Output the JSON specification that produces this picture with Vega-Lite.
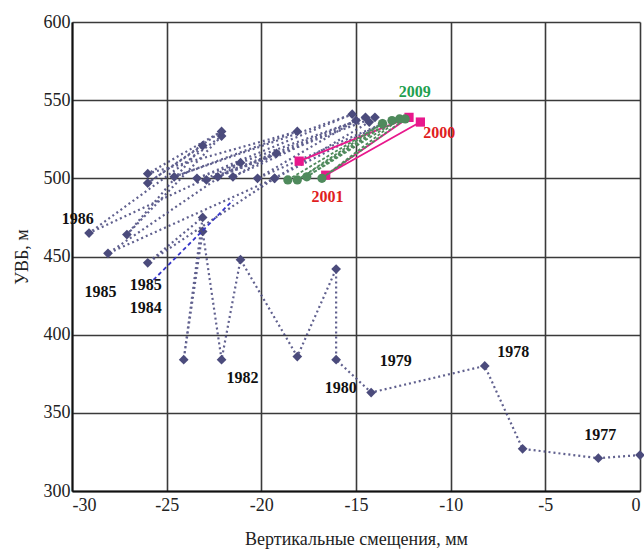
{
  "$schema": "https://vega.github.io/schema/vega-lite/v6.json",
  "width": 568,
  "height": 469,
  "autosize": {"type": "none"},
  "padding": {"left": 72, "top": 22, "right": 4, "bottom": 60},
  "background": "white",
  "config": {
    "font": "Liberation Serif",
    "view": {"stroke": null},
    "style": {
      "guide-label": {"font": "Liberation Serif", "fontSize": 18, "fill": "#222"},
      "guide-title": {"font": "Liberation Serif", "fontSize": 18, "fontWeight": "normal", "fill": "#222"}
    },
    "axis": {
      "labelFont": "Liberation Serif",
      "labelFontSize": 18,
      "labelColor": "#222",
      "titleFont": "Liberation Serif",
      "titleFontSize": 18,
      "titleFontWeight": "normal",
      "titleColor": "#222",
      "grid": true,
      "gridColor": "#3a3a3a",
      "gridWidth": 1.6,
      "gridOpacity": 1,
      "domainColor": "#111",
      "domainWidth": 2,
      "ticks": false
    }
  },
  "layer": [
    {
      "data": {"values": [
        {"o": 1, "x": 0, "y": 323},
        {"o": 2, "x": -2.2, "y": 321},
        {"o": 3, "x": -6.2, "y": 327},
        {"o": 4, "x": -8.2, "y": 380},
        {"o": 5, "x": -14.2, "y": 363},
        {"o": 6, "x": -16.05, "y": 384},
        {"o": 7, "x": -16.05, "y": 442},
        {"o": 8, "x": -18.1, "y": 386},
        {"o": 9, "x": -21.1, "y": 448},
        {"o": 10, "x": -22.1, "y": 384},
        {"o": 11, "x": -23.1, "y": 466},
        {"o": 12, "x": -24.1, "y": 384},
        {"o": 13, "x": -23.1, "y": 475},
        {"o": 14, "x": -26.0, "y": 446},
        {"o": 15, "x": -19.3, "y": 500},
        {"o": 16, "x": -28.1, "y": 452},
        {"o": 17, "x": -21.1, "y": 510},
        {"o": 18, "x": -29.1, "y": 465},
        {"o": 19, "x": -22.1, "y": 527},
        {"o": 20, "x": -27.1, "y": 464},
        {"o": 21, "x": -23.1, "y": 521},
        {"o": 22, "x": -26.0, "y": 497},
        {"o": 23, "x": -22.1, "y": 530},
        {"o": 24, "x": -26.0, "y": 503},
        {"o": 25, "x": -18.1, "y": 530},
        {"o": 26, "x": -24.6, "y": 501},
        {"o": 27, "x": -15.2, "y": 541},
        {"o": 28, "x": -23.4, "y": 500},
        {"o": 29, "x": -14.5, "y": 539},
        {"o": 30, "x": -22.9, "y": 499},
        {"o": 31, "x": -14.0, "y": 539},
        {"o": 32, "x": -22.3, "y": 501},
        {"o": 33, "x": -19.2, "y": 516},
        {"o": 34, "x": -21.5, "y": 501},
        {"o": 35, "x": -15.0, "y": 537},
        {"o": 36, "x": -20.2, "y": 500},
        {"o": 37, "x": -13.6, "y": 535},
        {"o": 38, "x": -19.3, "y": 500},
        {"o": 39, "x": -14.3, "y": 536}
      ]},
      "layer": [
        {
          "mark": {"type": "line", "color": "#4f4f82", "strokeWidth": 2.2, "strokeDash": [2, 3], "opacity": 0.9},
          "encoding": {
            "x": {"field": "x", "type": "quantitative", "scale": {"domain": [-30, 0], "nice": false, "zero": false}, "axis": {"values": [-30, -25, -20, -15, -10, -5, 0], "labelExpr": "'' + datum.value", "labelFont": "Liberation Serif", "titleFont": "Liberation Serif", "title": "Вертикальные смещения, мм", "labelPadding": 5, "titlePadding": 16}},
            "y": {"field": "y", "type": "quantitative", "scale": {"domain": [300, 600], "nice": false, "zero": false}, "axis": {"values": [300, 350, 400, 450, 500, 550, 600], "labelExpr": "'' + datum.value", "labelFont": "Liberation Serif", "titleFont": "Liberation Serif", "title": "УВБ, м", "labelPadding": 2, "titlePadding": 12}},
            "order": {"field": "o"}
          }
        },
        {
          "mark": {"type": "point", "shape": "diamond", "filled": true, "color": "#4b4b7c", "size": 95, "opacity": 1},
          "encoding": {
            "x": {"field": "x", "type": "quantitative"},
            "y": {"field": "y", "type": "quantitative"}
          }
        }
      ]
    },
    {
      "data": {"values": [
        {"o": 1, "x": -18.0, "y": 511},
        {"o": 2, "x": -12.2, "y": 539},
        {"o": 3, "x": -16.6, "y": 502},
        {"o": 4, "x": -11.6, "y": 536}
      ]},
      "layer": [
        {
          "mark": {"type": "line", "color": "#e8188c", "strokeWidth": 1.8},
          "encoding": {
            "x": {"field": "x", "type": "quantitative"},
            "y": {"field": "y", "type": "quantitative"},
            "order": {"field": "o"}
          }
        },
        {
          "mark": {"type": "point", "shape": "square", "filled": true, "color": "#e8188c", "size": 85, "opacity": 1},
          "encoding": {
            "x": {"field": "x", "type": "quantitative"},
            "y": {"field": "y", "type": "quantitative"}
          }
        }
      ]
    },
    {
      "data": {"values": [
        {"o": 1, "x": -18.6, "y": 499},
        {"o": 2, "x": -13.6, "y": 535},
        {"o": 3, "x": -18.1, "y": 499},
        {"o": 4, "x": -13.1, "y": 537},
        {"o": 5, "x": -17.6, "y": 501},
        {"o": 6, "x": -12.7, "y": 538},
        {"o": 7, "x": -16.8, "y": 500},
        {"o": 8, "x": -12.4, "y": 538}
      ]},
      "layer": [
        {
          "mark": {"type": "line", "color": "#4f8a5c", "strokeWidth": 1.8, "strokeDash": [3, 2]},
          "encoding": {
            "x": {"field": "x", "type": "quantitative"},
            "y": {"field": "y", "type": "quantitative"},
            "order": {"field": "o"}
          }
        },
        {
          "mark": {"type": "point", "shape": "circle", "filled": true, "color": "#4f8a5c", "size": 85, "opacity": 1},
          "encoding": {
            "x": {"field": "x", "type": "quantitative"},
            "y": {"field": "y", "type": "quantitative"}
          }
        }
      ]
    },
    {
      "data": {"values": [
        {"o": 1, "x": -25.7, "y": 435},
        {"o": 2, "x": -21.5, "y": 486}
      ]},
      "mark": {"type": "line", "color": "#3535c8", "strokeWidth": 1.8, "strokeDash": [4, 3]},
      "encoding": {
        "x": {"field": "x", "type": "quantitative"},
        "y": {"field": "y", "type": "quantitative"},
        "order": {"field": "o"}
      }
    },
    {
      "data": {"values": [
        {"t": "1986", "x": -29.7, "y": 474, "c": "k"},
        {"t": "1985", "x": -28.5, "y": 427, "c": "k"},
        {"t": "1985", "x": -26.1, "y": 432, "c": "k"},
        {"t": "1984", "x": -26.1, "y": 417, "c": "k"},
        {"t": "1982", "x": -21.0, "y": 372, "c": "k"},
        {"t": "1980", "x": -15.8, "y": 366, "c": "k"},
        {"t": "1979", "x": -12.9, "y": 383, "c": "k"},
        {"t": "1978", "x": -6.7, "y": 389, "c": "k"},
        {"t": "1977", "x": -2.1, "y": 336, "c": "k"},
        {"t": "2009", "x": -11.9, "y": 555, "c": "g"},
        {"t": "2000", "x": -10.6, "y": 529, "c": "r"},
        {"t": "2001", "x": -16.5, "y": 488, "c": "r"}
      ]},
      "mark": {"type": "text", "font": "Liberation Serif", "fontSize": 16, "fontWeight": "bold", "align": "center", "baseline": "middle"},
      "encoding": {
        "x": {"field": "x", "type": "quantitative"},
        "y": {"field": "y", "type": "quantitative"},
        "text": {"field": "t"},
        "color": {"field": "c", "type": "nominal", "scale": {"domain": ["k", "g", "r"], "range": ["#111111", "#1fa050", "#e0201e"]}, "legend": null}
      }
    }
  ]
}
